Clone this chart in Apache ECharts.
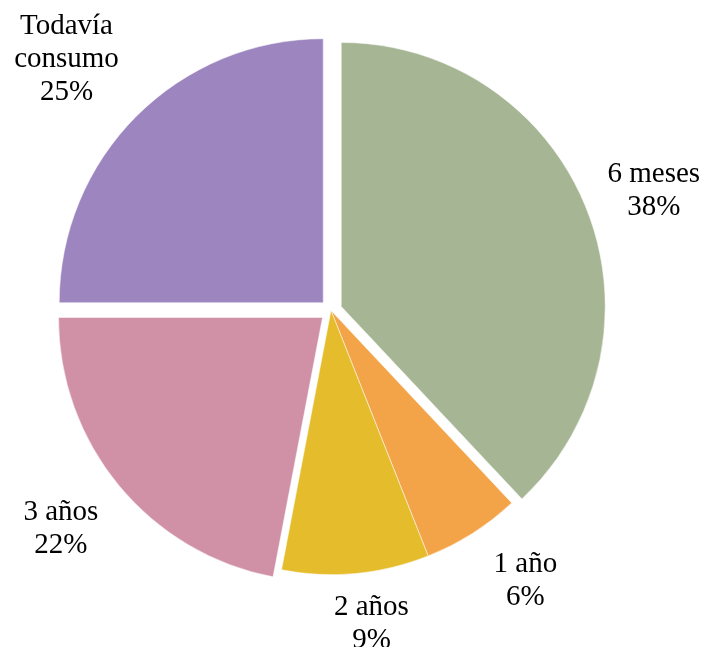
<!DOCTYPE html>
<html>
<head>
<meta charset="utf-8">
<script src="https://cdn.jsdelivr.net/npm/echarts@6/dist/echarts.min.js"></script>
<style>
  html, body { margin: 0; padding: 0; background: #fff; }
  #chart { width: 701px; height: 647px; }
</style>
</head>
<body>
<div id="chart"></div>
<script>
// datos
const categories = ['6 meses', '1 año', '2 años', '3 años', 'Todavía\nconsumo'];
const values = [38, 6, 9, 22, 25];
const colors = ['#A6B593', '#F3A448', '#E5BC2B', '#D091A7', '#9D86C0'];
const exploded = [true, false, false, true, true];

// ajuste de etiquetas (estilo, no datos)
const labelGap = [70, 69, 49, 69, 92];
const labelShift = [[2, 7], [16, -11], [11, 2], [-5, -1], [-5, 8]];

const chart = echarts.init(document.getElementById('chart'));

const option = {
  animation: false,
  series: [
    {
      type: 'pie',
      center: [331, 310.5],
      radius: 264,
      startAngle: 90,
      clockwise: true,
      selectedMode: 'multiple',
      selectedOffset: 11,
      avoidLabelOverlap: false,
      itemStyle: { borderColor: '#fff', borderWidth: 0.5 },
      label: {
        show: true,
        position: 'outside',
        formatter: '{b}\n{d}%',
        fontFamily: 'Liberation Serif',
        fontSize: 29,
        lineHeight: 33,
        color: '#000',
        distanceToLabelLine: 0
      },
      labelLine: { show: false, length2: 0 },
      labelLayout: function (params) {
        const s = labelShift[params.dataIndex];
        return { align: 'center', verticalAlign: 'middle', dx: s[0], dy: s[1] };
      },
      emphasis: { disabled: true },
      data: categories.map((name, i) => ({
        name: name,
        value: values[i],
        selected: exploded[i],
        itemStyle: { color: colors[i] },
        labelLine: { length: labelGap[i] }
      }))
    }
  ]
};

chart.setOption(option);
</script>
</body>
</html>
